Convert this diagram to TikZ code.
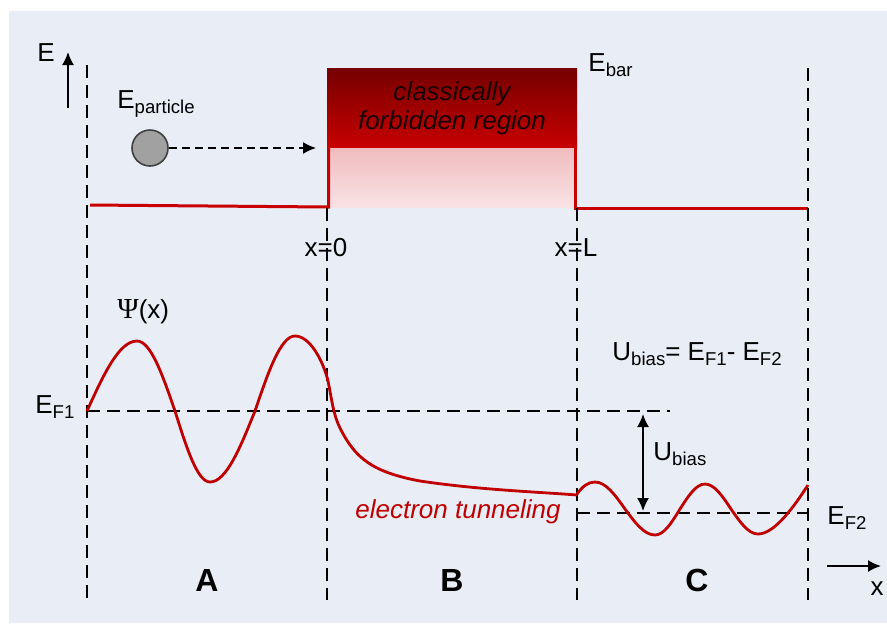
\documentclass[tikz,border=0pt]{standalone}
\usepackage{fontspec}
\setmainfont{Liberation Sans}
\newfontfamily\psifont{Liberation Serif}
\usetikzlibrary{arrows.meta}
\definecolor{panel}{RGB}{233,237,246}
\definecolor{barred}{RGB}{200,0,0}
\definecolor{bardark}{RGB}{118,0,0}
\definecolor{barpink}{RGB}{240,188,190}
\definecolor{barpale}{RGB}{249,226,228}
\definecolor{tunnelred}{RGB}{192,0,0}
\newcommand{\lo}[1]{\raisebox{-2.5pt}{\fontsize{9.3}{10}\selectfont #1}}
\tikzset{ptip/.tip={Latex[length=6.5pt,width=6pt]}}

\begin{document}
\begin{tikzpicture}[x=0.5pt,y=-0.5pt,
    every node/.style={font=\fontsize{13}{15}\selectfont, inner sep=0pt},
    guide/.style={dash pattern=on 6.5pt off 3.5pt, line width=0.9pt},
    barline/.style={draw=barred, line width=1.5pt},
    wave/.style={draw=tunnelred, line width=1.4pt, line join=round},
    axisarrow/.style={-ptip, line width=0.9pt},
    region/.style={font=\fontsize{16}{18}\selectfont\bfseries}]
    \useasboundingbox (0,0) rectangle (887,623);
    \fill[panel] (9,11) rectangle (887,623);

    \shade[top color=bardark, bottom color=barred] (327,68) rectangle (577,148);
    \shade[top color=barpink, bottom color=barpale] (330,148) rectangle (574,207);
    \draw[barline] (90,205) -- (328.5,207) -- (328.5,146);
    \draw[barline] (575.5,146) -- (575.5,208) -- (808,208);

    \draw[guide] (87,65) -- (87,600);
    \draw[guide] (808,68) -- (808,600);
    \draw[guide] (327,208) -- (327,600);
    \draw[guide] (577,208) -- (577,600);
    \draw[guide] (87,411) -- (670,411);
    \draw[guide] (577,513) -- (808,513);

    \draw[wave] (87,411) sin (137,341) cos (175,411) sin (210,482) cos (255,411) sin (295,336)
        .. controls (310,336) and (322,360) .. (327,377)
        .. controls (331,392) and (332,412) .. (340,428)
        .. controls (355,458) and (372,472) .. (420,481)
        .. controls (480,490) and (540,492) .. (577,495);
    \draw[wave] (577,494) .. controls (583,486) and (588,482) .. (595,482)
        cos (625,509) sin (655,535) cos (680,509) sin (705,484) cos (731,509) sin (758,534)
        .. controls (775,534) and (795,505) .. (808,485);

    \draw[axisarrow] (68,108) -- (68,52);
    \draw[axisarrow] (827,566) -- (881,566);

    \node[circle, minimum size=18pt, fill=black!37, draw=black!75, line width=0.8pt] (ptcl) at (150,148) {};
    \coordinate (hit) at (316,148);
    \draw[-ptip, line width=0.8pt, dash pattern=on 4pt off 2.5pt] (ptcl) -- (hit);

    \coordinate (ubtop) at (643,414);
    \coordinate (ubbot) at (643,511);
    \draw[ptip-ptip, line width=0.8pt] (ubtop) -- (ubbot);

    \node[anchor=base west] (lblE) at (37,61) {E};
    \node[anchor=base west] (epart) at (117,108) {E\lo{particle}};
    \node[anchor=base west] (ebar) at (588,71) {E\lo{bar}};
    \node[align=center, font=\fontsize{13}{14.5}\selectfont\itshape, text=black!90!red] (forbid) at (452,108) {classically\\forbidden region};
    \node (xzero) at (326,248) {x=0};
    \node (xel) at (576,248) {x=L};
    \node[anchor=base west] (psi) at (117,318) {{\psifont\fontsize{14.5}{15}\selectfont Ψ}(x)};
    \node[anchor=base west] (ef1) at (35,413) {E\lo{F1}};
    \node[anchor=base west] (ef2) at (827,524) {E\lo{F2}};
    \node[anchor=base west] (ubias) at (653,460) {U\lo{bias}};
    \node[anchor=base west] (ubeq) at (612,360) {U\lo{bias}= E\lo{F1}- E\lo{F2}};
    \node[anchor=base west, text=tunnelred, font=\fontsize{13}{15}\selectfont\itshape] (tunnel) at (355,518) {electron tunneling};
    \node[region] (regA) at (207,580) {A};
    \node[region] (regB) at (452,580) {B};
    \node[region] (regC) at (697,580) {C};
    \node (lblx) at (877,589) {x};
\end{tikzpicture}
\end{document}
